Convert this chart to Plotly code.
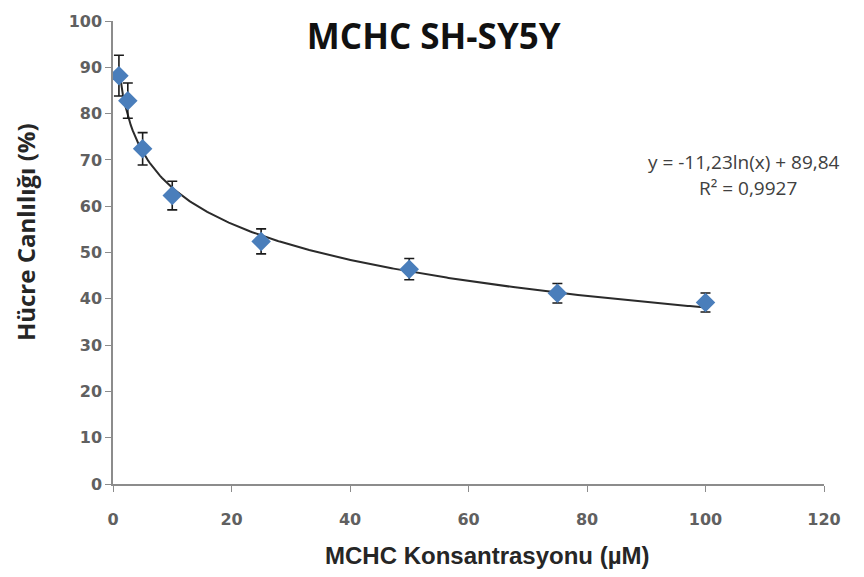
import numpy as np
import plotly.graph_objects as go

# Concentration (µM), mean viability (%) and its error
concentration = [1, 2.5, 5, 10, 25, 50, 75, 100]
viability = [88.2, 82.8, 72.4, 62.3, 52.4, 46.4, 41.2, 39.2]
viability_err = [4.4, 3.8, 3.5, 3.1, 2.7, 2.3, 2.1, 2.05]

# Logarithmic trendline coefficients: y = a*ln(x) + b
trend_a = -11.23
trend_b = 89.84
r_squared = "0,9927"

x_ticks = [0, 20, 40, 60, 80, 100, 120]
y_ticks = [0, 10, 20, 30, 40, 50, 60, 70, 80, 90, 100]

trend_x = np.linspace(min(concentration), max(concentration), 300)
trend_y = trend_a * np.log(trend_x) + trend_b

fig = go.Figure()

fig.add_trace(go.Scatter(
    x=trend_x, y=trend_y, mode="lines",
    line=dict(color="#2b2b2b", width=2),
    hoverinfo="skip", showlegend=False,
))

fig.add_trace(go.Scatter(
    x=concentration, y=viability, mode="markers",
    marker=dict(symbol="diamond", size=15, color="#4a7ebb",
                line=dict(width=0)),
    error_y=dict(type="data", array=viability_err, visible=True,
                 color="#1a1a1a", thickness=1.6, width=5),
    showlegend=False,
))

eq_font = dict(family="Open Sans, Arial", size=19, color="#404040")
fig.add_annotation(
    x=0.8875, y=0.695, xref="paper", yref="paper",
    xanchor="center", yanchor="middle", showarrow=False,
    text="y = -11,23ln(x) + 89,84", font=eq_font,
)
fig.add_annotation(
    x=0.893, y=0.639, xref="paper", yref="paper",
    xanchor="center", yanchor="middle", showarrow=False,
    text="R² = " + r_squared, font=eq_font,
)

# Axis titles
fig.add_annotation(
    x=-0.1238, y=0.544, xref="paper", yref="paper", textangle=-90,
    xanchor="center", yanchor="middle", showarrow=False,
    text="<b>Hücre Canlılığı (%)</b>",
    font=dict(family="Open Sans, Arial", size=24, color="#262626"),
)
fig.add_annotation(
    x=0.527, y=-0.154, xref="paper", yref="paper",
    xanchor="center", yanchor="middle", showarrow=False,
    text="<b>MCHC Konsantrasyonu (µM)</b>",
    font=dict(family="Liberation Sans, Arial", size=24, color="#262626"),
)

tick_font = dict(family="DejaVu Sans, Verdana", size=16, color="#606060", weight="bold")

fig.update_layout(
    width=864, height=577,
    margin=dict(l=113, r=40, t=17, b=93),
    paper_bgcolor="white", plot_bgcolor="white",
    title=dict(text="<b>MCHC SH-SY5Y</b>", x=0.502, xanchor="center",
               y=0.936, yanchor="middle",
               font=dict(family="Open Sans, Arial", size=35, color="#111111")),
    xaxis=dict(
        range=[0, 120], tickvals=x_ticks, showgrid=False, zeroline=False,
        showline=True, linecolor="#8c8c8c", linewidth=1.5,
        ticks="outside", ticklen=6, tickcolor="#8c8c8c",
        ticklabelstandoff=14, tickfont=tick_font,
    ),
    yaxis=dict(
        range=[0, 100], tickvals=y_ticks, showgrid=False, zeroline=False,
        showline=True, linecolor="#8c8c8c", linewidth=1.5,
        ticks="outside", ticklen=6, tickcolor="#8c8c8c",
        tickfont=tick_font,
    ),
)

fig.write_html("out.html")
